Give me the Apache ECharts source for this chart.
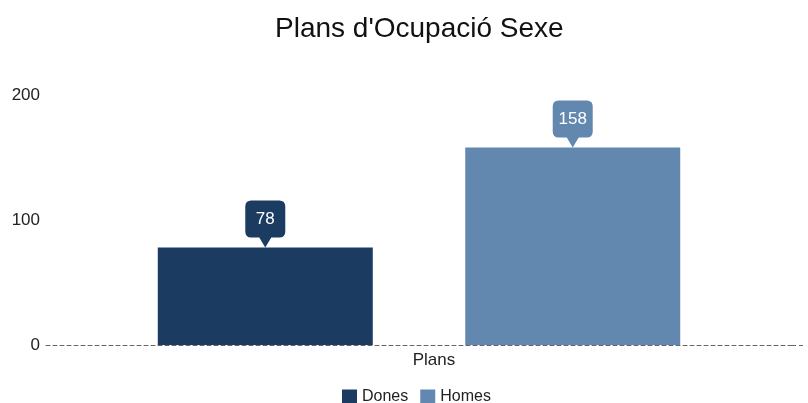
<!DOCTYPE html>
<html>
<head>
<meta charset="utf-8">
<script src="https://cdn.jsdelivr.net/npm/echarts@6/dist/echarts.min.js"></script>
<style>
  html, body { margin: 0; padding: 0; background: #fff; }
  #chart { width: 808px; height: 403px; }
</style>
</head>
<body>
<div id="chart"></div>
<script>
// dades
let categories = ['Plans'];
let seriesNames = ['Dones', 'Homes'];
let donesValues = [78];
let homesValues = [158];
let colors = ['#1c3b61', '#6388b0'];

// bombolla amb punta per a les etiquetes
let pinPath = 'path://M6,0 H34 Q40,0 40,6 V31 Q40,37 34,37 H26 L20,47 L14,37 H6 Q0,37 0,31 V6 Q0,0 6,0 Z';

function barSeries(name, values, color) {
    return {
        name: name,
        type: 'bar',
        data: values,
        barWidth: 215,
        barGap: '43%',
        itemStyle: { color: color },
        markPoint: {
            symbol: pinPath,
            symbolSize: [40, 47],
            symbolOffset: [0, '-50%'],
            itemStyle: { color: color },
            label: {
                show: true,
                color: '#fff',
                fontSize: 17,
                fontFamily: 'Liberation Sans, Arial, sans-serif',
                offset: [0, -5]
            },
            data: values.map((v, i) => ({ coord: [categories[i], v], value: v }))
        }
    };
}

let chart = echarts.init(document.getElementById('chart'));
chart.setOption({
    animation: false,
    textStyle: { fontFamily: 'Liberation Sans, Arial, sans-serif' },
    title: {
        text: "Plans d'Ocupació Sexe",
        left: 270,
        top: 10,
        textStyle: { fontSize: 28, fontWeight: 'normal', color: '#111' }
    },
    legend: {
        data: seriesNames,
        top: 384,
        left: 337,
        itemWidth: 15,
        itemHeight: 15,
        itemGap: 12,
        icon: 'rect',
        textStyle: { fontSize: 16, color: '#222' }
    },
    grid: { left: 46, right: 16, top: 95, bottom: 58 },
    xAxis: {
        type: 'category',
        data: categories,
        axisLine: { lineStyle: { color: '#666', type: [4, 3], width: 1 } },
        axisTick: { show: false },
        axisLabel: { fontSize: 17, color: '#222', margin: 7, padding: [0, 0, 0, 30] }
    },
    yAxis: {
        type: 'value',
        min: 0,
        max: 200,
        interval: 100,
        splitLine: { show: false },
        axisLine: { show: false },
        axisLabel: { fontSize: 17, color: '#222', margin: 6 }
    },
    graphic: [{
        type: 'line',
        shape: { x1: 792, y1: 345.5, x2: 806, y2: 345.5 },
        style: { stroke: '#666', lineWidth: 1, lineDash: [4, 3] }
    }],
    series: [
        barSeries(seriesNames[0], donesValues, colors[0]),
        barSeries(seriesNames[1], homesValues, colors[1])
    ]
});
</script>
</body>
</html>
